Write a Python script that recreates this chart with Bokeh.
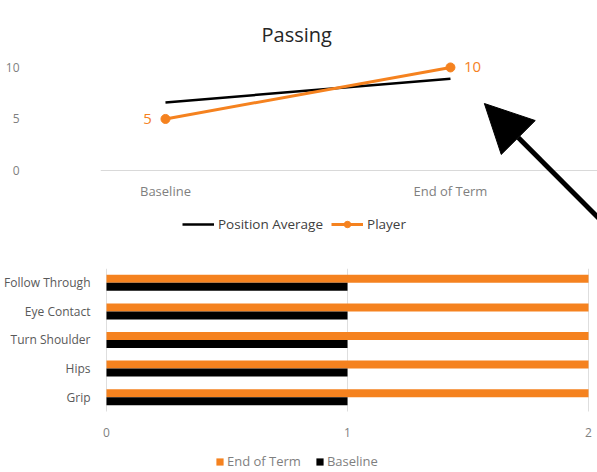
from bokeh.plotting import figure
from bokeh.models import (Range1d, Legend, LegendItem, Arrow, NormalHead, LabelSet,
                          ColumnDataSource)
from bokeh.layouts import column
from bokeh.embed import file_html
from bokeh.resources import INLINE
from bokeh.transform import dodge
from bokeh.core.properties import value

# ---- data ----
periods = ["Baseline", "End of Term"]
position_average = [6.6, 8.9]
player = [5, 10]
top_y_ticks = [0, 5, 10]

skills = ["Grip", "Hips", "Turn Shoulder", "Eye Contact", "Follow Through"]
end_of_term = [2, 2, 2, 2, 2]
baseline = [1, 1, 1, 1, 1]
bottom_x_ticks = [0, 1, 2]

ORANGE = "#F5821F"
GRAY_TXT = "#7F7F7F"
DARK_TXT = "#595959"
FONT = "Open Sans"
W = 597
LEFT = 100

# ---- top line chart ----
px = list(range(len(periods)))
top = figure(width=W, height=245, x_range=Range1d(-0.228, 1.516), y_range=Range1d(-7.28, 11.45),
             output_backend="svg", toolbar_location=None, title="Passing",
             min_border_left=LEFT, min_border_right=0, min_border_top=52, min_border_bottom=0)
top.outline_line_color = None
top.title.align = "left"
top.title.offset = 161
top.title.text_font = FONT
top.title.text_font_size = "20px"
top.title.text_font_style = "normal"
top.title.text_color = "#262626"

top.xgrid.grid_line_color = None
top.ygrid.grid_line_color = None
top.yaxis.ticker = top_y_ticks
top.yaxis.axis_line_color = None
top.yaxis.major_tick_line_color = None
top.yaxis.minor_tick_line_color = None
top.yaxis.major_label_standoff = 75
top.yaxis.major_label_text_font = FONT
top.yaxis.major_label_text_font_size = "12px"
top.yaxis.major_label_text_color = GRAY_TXT
top.xaxis.fixed_location = 0
top.xaxis.ticker = px
top.xaxis.major_label_overrides = {i: n for i, n in zip(px, periods)}
top.xaxis.axis_line_color = "#D9D9D9"
top.xaxis.major_tick_line_color = None
top.xaxis.minor_tick_line_color = None
top.xaxis.major_label_standoff = 6
top.xaxis.major_label_text_font = FONT
top.xaxis.major_label_text_font_size = "13px"
top.xaxis.major_label_text_color = GRAY_TXT

avg_line = top.line(px, position_average, line_color="black", line_width=2.5)
pl_line = top.line(px, player, line_color=ORANGE, line_width=3)
pl_pts = top.scatter(px, player, size=9, fill_color=ORANGE, line_color=ORANGE)

first = ColumnDataSource(dict(x=px[:1], y=player[:1], t=[str(v) for v in player[:1]]))
last = ColumnDataSource(dict(x=px[1:], y=player[1:], t=[str(v) for v in player[1:]]))
top.add_layout(LabelSet(x="x", y="y", text="t", source=first, x_offset=-18,
                        text_align="center", text_baseline="middle",
                        text_font=value(FONT), text_font_size=value("15px"),
                        text_color=ORANGE))
top.add_layout(LabelSet(x="x", y="y", text="t", source=last, x_offset=22,
                        text_align="center", text_baseline="middle",
                        text_font=value(FONT), text_font_size=value("15px"),
                        text_color=ORANGE))

top.add_layout(Arrow(end=NormalHead(size=48, fill_color="black", line_color="black"),
                     x_start=1.53, y_start=-4.9, x_end=1.119, y_end=6.5,
                     line_width=5, line_color="black"))

leg_top = Legend(items=[LegendItem(label="Position Average", renderers=[avg_line]),
                        LegendItem(label="Player", renderers=[pl_line, pl_pts])],
                 orientation="horizontal", location=(82, 12), border_line_color=None,
                 background_fill_alpha=0, label_text_font=FONT, label_text_font_size="13.5px",
                 label_text_color="#404040", glyph_width=32, glyph_height=16, label_height=16,
                 spacing=8, padding=0, margin=0, label_standoff=4)
top.add_layout(leg_top)

# ---- bottom bar chart ----
sy = list(range(len(skills)))
bot = figure(width=W, height=227, y_range=Range1d(-2.633, 4.5), x_range=Range1d(-0.0249, 2.0373),
             output_backend="svg", toolbar_location=None,
             min_border_left=LEFT, min_border_right=0, min_border_top=23, min_border_bottom=0)
bot.outline_line_color = None
bot.ygrid.grid_line_color = None
bot.xgrid.grid_line_color = "#DEDEDE"
bot.xgrid.ticker = bottom_x_ticks
grid = bot.xgrid[0]
if "cross_bounds" in grid.properties():
    grid.cross_bounds = (-0.5, 4.5)
bot.xaxis.ticker = bottom_x_ticks
bot.xaxis.fixed_location = -0.5
bot.xaxis.axis_line_color = None
bot.xaxis.major_tick_line_color = None
bot.xaxis.minor_tick_line_color = None
bot.xaxis.major_label_standoff = 11
bot.xaxis.major_label_text_font = FONT
bot.xaxis.major_label_text_font_size = "12px"
bot.xaxis.major_label_text_color = GRAY_TXT
bot.yaxis.ticker = sy
bot.yaxis.major_label_overrides = {i: n for i, n in zip(sy, skills)}
bot.yaxis.axis_line_color = None
bot.yaxis.major_tick_line_color = None
bot.yaxis.minor_tick_line_color = None
bot.yaxis.major_label_standoff = 4
bot.yaxis.major_label_text_font = FONT
bot.yaxis.major_label_text_font_size = "12px"
bot.yaxis.major_label_text_color = DARK_TXT

src = ColumnDataSource(dict(y=sy, eot=end_of_term, base=baseline))
b1 = bot.hbar(y=dodge("y", 0.14), right="eot", left=0, height=0.28,
              source=src, fill_color=ORANGE, line_color=None)
b2 = bot.hbar(y=dodge("y", -0.14), right="base", left=0, height=0.28,
              source=src, fill_color="black", line_color=None)

leg_bot = Legend(items=[LegendItem(label="End of Term", renderers=[b1]),
                        LegendItem(label="Baseline", renderers=[b2])],
                 orientation="horizontal", location=(115, 2), border_line_color=None,
                 background_fill_alpha=0, label_text_font=FONT, label_text_font_size="13px",
                 label_text_color=GRAY_TXT, glyph_width=9, glyph_height=9, label_height=12,
                 spacing=14, padding=0, margin=0, label_standoff=3)
bot.add_layout(leg_bot)

layout = column(top, bot, spacing=0)
open("out.html", "w").write(file_html(layout, INLINE))
